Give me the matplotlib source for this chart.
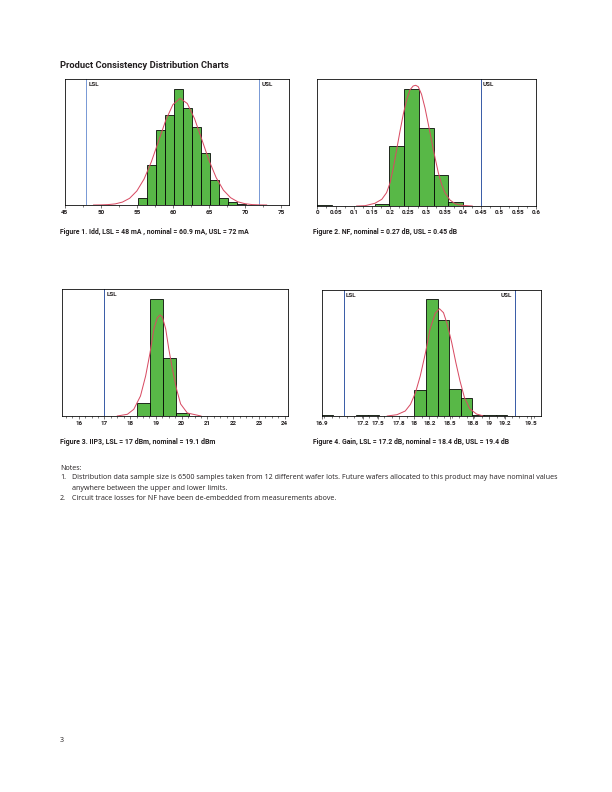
import numpy as np
import matplotlib.pyplot as plt
from matplotlib.ticker import MultipleLocator, FixedLocator

plt.rcParams['font.family'] = ['Roboto', 'DejaVu Sans']

# ---- Figure 1: Idd (mA) ----
idd_left = [53.85, 55.1, 56.35, 57.6, 58.85, 60.1, 61.35, 62.6, 63.85, 65.1, 66.35, 67.6, 68.85]
idd_count = [0.5, 6.7, 39.7, 74.7, 89.7, 115.7, 96.7, 78.0, 51.7, 24.7, 6.7, 2.7, 0.7]
idd_width = 1.25
idd_fit_x = [49, 50, 51, 52, 53, 54, 55, 56, 57, 58, 59, 60, 61, 62, 63, 64, 65, 66, 67, 68, 69, 70, 71, 72, 73]
idd_fit_y = [0.0, 0.1, 0.4, 1.1, 2.9, 6.7, 14.0, 25.9, 42.9, 63.6, 84.5, 100.4, 106.7, 101.5, 86.4,
             65.8, 44.8, 27.4, 14.9, 7.3, 3.2, 1.3, 0.4, 0.1, 0.0]
idd_lsl, idd_usl = 48, 72

# ---- Figure 2: NF (dB) ----
nf_left = [0.0, 0.157, 0.1975, 0.238, 0.2785, 0.319, 0.3595, 0.441, 0.4815, 0.522]
nf_count = [0.7, 2.0, 59.7, 116.7, 77.7, 30.7, 3.7, 0.5, 0.5, 0.5]
nf_width = 0.0405
nf_fit_x = [0.108, 0.131, 0.158, 0.177, 0.19, 0.1995, 0.2086, 0.218, 0.227, 0.236, 0.245, 0.254, 0.263,
            0.27, 0.277, 0.286, 0.2955, 0.3046, 0.3138, 0.323, 0.332, 0.341, 0.35, 0.364, 0.378, 0.396, 0.425]
nf_fit_y = [0.0, 0.3, 2.7, 6.7, 13.3, 23.0, 38.0, 57.0, 75.0, 92.0, 106.0, 116.0, 120.0,
            120.7, 119.3, 111.7, 98.0, 81.7, 65.0, 48.3, 33.3, 21.7, 13.3, 6.0, 2.3, 0.7, 0.0]
nf_usl = 0.449
nf_ticks = ['0', '0.05', '0.1', '0.15', '0.2', '0.25', '0.3', '0.35', '0.4', '0.45', '0.5', '0.55', '0.6']

# ---- Figure 3: IIP3 (dBm) ----
ip3_left = [18.28, 18.78, 19.28, 19.78]
ip3_count = [12.7, 116.7, 58.0, 3.0]
ip3_width = 0.5
ip3_fit_x = [17.5, 17.89, 18.14, 18.4, 18.6, 18.77, 18.92, 19.05, 19.16, 19.25, 19.38, 19.5, 19.64,
             19.8, 19.96, 20.22, 20.75]
ip3_fit_y = [0.0, 1.7, 6.7, 20.0, 40.0, 63.0, 87.0, 98.0, 101.0, 99.0, 87.0, 67.0, 47.0,
             27.0, 12.0, 3.0, 0.0]
ip3_lsl = 17.0

# ---- Figure 4: Gain (dB) ----
gain_left = [16.76, 17.225, 17.38, 18.0, 18.155, 18.31, 18.465, 18.62, 18.775, 18.93, 19.085]
gain_count = [0.7, 0.7, 0.7, 25.7, 116.7, 95.7, 26.7, 17.7, 1.5, 1.5, 0.7]
gain_width = 0.155
gain_fit_x = [17.64, 17.77, 17.88, 17.95, 18.016, 18.08, 18.15, 18.21, 18.28, 18.336, 18.39, 18.44,
              18.5, 18.555, 18.61, 18.67, 18.74, 18.83, 18.91]
gain_fit_y = [0.0, 1.3, 5.0, 11.7, 23.3, 40.0, 63.3, 86.7, 102.7, 107.3, 103.3, 91.7,
              73.3, 53.3, 35.0, 18.3, 7.3, 2.0, 0.3]
gain_lsl, gain_usl = 17.06, 19.34
gain_tick_pos = [16.77, 17.31, 17.51, 17.8, 18.0, 18.2, 18.48, 18.78, 19.0, 19.21, 19.55]
gain_tick_lab = ['16.9', '17.2', '17.5', '17.8', '18', '18.2', '18.5', '18.8', '19', '19.2', '19.5']

W, H = 612, 792
fig = plt.figure(figsize=(W / 72, H / 72), dpi=72)
rend = fig.canvas.get_renderer()

BAR = '#58b847'
FIT = '#d84a62'
BLUE1 = '#7b9bd6'
BLUE2 = '#3d5fa8'
INK = '#231f20'
NOTE_FAM = ['Open Sans', 'DejaVu Sans']
TICK = 6.3
LIM = 6.3


def fit_width(t, px):
    # scale a text so its drawn width matches the reference
    w = t.get_window_extent(rend).width
    t.set_fontsize(t.get_fontsize() * px / w)
    return t


def box(l, t, r, b):
    return [l / W, 1 - b / H, (r - l) / W, (b - t) / H]


def hist_panel(rect, left, count, width, fx, fy, xlim, ylim):
    ax = fig.add_axes(rect)
    ax.bar(left, count, width=width, align='edge', color=BAR, edgecolor='black', linewidth=0.8, zorder=2)
    ax.plot(fx, fy, color=FIT, lw=1.0, zorder=3)
    ax.set_xlim(*xlim)
    ax.set_ylim(*ylim)
    ax.set_yticks([])
    for s in ax.spines.values():
        s.set_linewidth(0.8)
    ax.tick_params(axis='x', which='major', length=3, width=0.6, pad=1.5, labelsize=TICK, colors=INK)
    ax.tick_params(axis='x', which='minor', length=1.8, width=0.5)
    return ax


def bold_ticks(ax):
    for lab in ax.get_xticklabels():
        lab.set_fontweight('bold')


def limit(ax, x, name, col, dx=2):
    ax.axvline(x, color=col, lw=1.0, zorder=1)
    ax.annotate(name, xy=(x, 1), xycoords=('data', 'axes fraction'), xytext=(dx, -3),
                textcoords='offset points', ha='left', va='top', fontsize=LIM, fontweight='bold', color=INK)


def caption(x, y, s, px):
    t = fig.text(x / W, 1 - y / H, s, fontsize=7, fontweight='bold', va='center', color=INK)
    fit_width(t, px)


title = fig.text(60 / W, 1 - 65 / H, 'Product Consistency Distribution Charts', fontsize=8.5,
                 fontweight='bold', va='center', color=INK)
fit_width(title, 169)

# Figure 1
ax1 = hist_panel(box(64.7, 79.3, 289, 205), idd_left, idd_count, idd_width, idd_fit_x, idd_fit_y,
                 (45, 76.1), (0, 125.7))
ax1.xaxis.set_major_locator(MultipleLocator(5))
ax1.xaxis.set_minor_locator(MultipleLocator(2.5))
bold_ticks(ax1)
limit(ax1, idd_lsl, 'LSL', BLUE1)
limit(ax1, idd_usl, 'USL', BLUE1)
caption(60, 232, 'Figure 1. Idd, LSL = 48 mA , nominal = 60.9 mA, USL = 72 mA', 187)

# Figure 2
ax2 = hist_panel(box(317.3, 79.3, 536, 206), nf_left, nf_count, nf_width, nf_fit_x, nf_fit_y,
                 (0, 0.6), (0, 126.7))
ax2.set_xticks(np.round(np.arange(0, 0.601, 0.05), 2))
ax2.set_xticklabels(nf_ticks)
ax2.xaxis.set_minor_locator(MultipleLocator(0.025))
bold_ticks(ax2)
limit(ax2, nf_usl, 'USL', BLUE2)
caption(313, 232, 'Figure 2. NF, nominal = 0.27 dB, USL = 0.45 dB', 145)

# Figure 3
ax3 = hist_panel(box(61.7, 289, 288, 416), ip3_left, ip3_count, ip3_width, ip3_fit_x, ip3_fit_y,
                 (15.34, 24.13), (0, 127))
ax3.xaxis.set_major_locator(MultipleLocator(1))
ax3.xaxis.set_minor_locator(MultipleLocator(0.25))
bold_ticks(ax3)
limit(ax3, ip3_lsl, 'LSL', BLUE2)
caption(60, 442, 'Figure 3. IIP3, LSL = 17 dBm, nominal = 19.1 dBm', 154)

# Figure 4
ax4 = hist_panel(box(321.7, 290, 541, 416), gain_left, gain_count, gain_width, gain_fit_x, gain_fit_y,
                 (16.766, 19.69), (0, 126))
ax4.xaxis.set_major_locator(FixedLocator(gain_tick_pos))
ax4.set_xticklabels(gain_tick_lab)
ax4.xaxis.set_minor_locator(MultipleLocator(0.1))
bold_ticks(ax4)
limit(ax4, gain_lsl, 'LSL', BLUE2)
limit(ax4, gain_usl, 'USL', BLUE2, dx=-14)
caption(313, 442, 'Figure 4. Gain, LSL = 17.2 dB, nominal = 18.4 dB, USL = 19.4 dB', 196)

# Notes (regular weight)
note1 = ('Distribution data sample size is 6500 samples taken from 12 different wafer lots. '
         'Future wafers allocated to this product may have nominal values')
t = fig.text(72 / W, 1 - 478 / H, note1, fontsize=6, va='center', color=INK, family=NOTE_FAM)
fit_width(t, 479)
nfs = t.get_fontsize()
note_lines = [(60, 468, 'Notes:'), (60, 478, '1.'), (72, 488, 'anywhere between the upper and lower limits.'),
              (60, 498, '2.'), (72, 498, 'Circuit trace losses for NF have been de-embedded from measurements above.'),
              (60, 740, '3')]
for x, y, s in note_lines:
    fig.text(x / W, 1 - y / H, s, fontsize=nfs, va='center', color=INK, family=NOTE_FAM)

fig.savefig('out.png', dpi=72)
